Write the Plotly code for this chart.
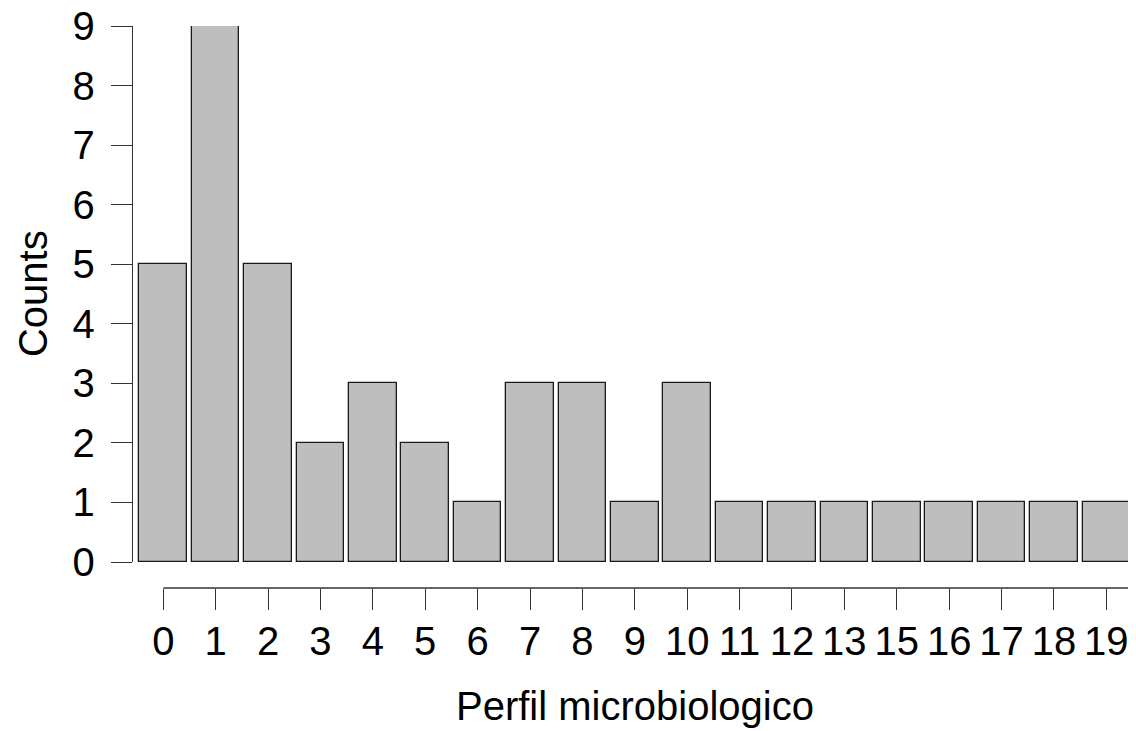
import plotly.graph_objects as go

categories = ["0", "1", "2", "3", "4", "5", "6", "7", "8", "9", "10",
              "11", "12", "13", "15", "16", "17", "18", "19"]
counts = [5, 9, 5, 2, 3, 2, 1, 3, 3, 1, 3, 1, 1, 1, 1, 1, 1, 1, 1]
y_ticks = list(range(0, 10))
x_title = "Perfil microbiologico"
y_title = "Counts"

FONT = "Liberation Sans, Arial, sans-serif"
FS = 40
OFF = 8  # page body margin
W, H = 1136 - OFF, 731 - OFF
L, R, T, B = 133 - OFF, 3.5, 26 - OFF, 143
plot_h = H - T - B  # 562
plot_w = W - L - R
paper_bottom = H - B
zero_px = 562 - OFF
ydom0 = (paper_bottom - zero_px) / plot_h

fig = go.Figure()
fig.add_trace(go.Bar(
    x=categories, y=counts, width=0.909,
    marker=dict(color="#BEBEBE", line=dict(color="#1a1a1a", width=1.3)),
    showlegend=False, hoverinfo="x+y",
))

# x axis baseline spanning first..last category (R style)
fig.add_shape(type="line", xref="x", yref="paper",
              x0=categories[0], x1=categories[-1], y0=0, y1=0,
              line=dict(color="#333333", width=1.3))

fig.update_layout(
    width=W, height=H,
    margin=dict(l=L, r=R, t=T, b=B, pad=0, autoexpand=False),
    plot_bgcolor="white", paper_bgcolor="white",
    font=dict(family=FONT, size=FS, color="black"),
    bargap=0,
    xaxis=dict(
        type="category", range=[-0.578, 18.49],
        anchor="free", position=0, automargin=False,
        showline=False, showgrid=False, zeroline=False,
        ticks="outside", ticklen=21, tickwidth=1.3, tickcolor="#333333",
        tickfont=dict(family=FONT, size=FS, color="black"),
        ticklabelstandoff=-3, ticklabeloverflow="allow",
    ),
    yaxis=dict(
        domain=[ydom0, 1], range=[0, 9], automargin=False,
        tickvals=y_ticks,
        showline=True, linecolor="#333333", linewidth=1.3,
        showgrid=False, zeroline=False,
        ticks="outside", ticklen=21, tickwidth=1.3, tickcolor="#333333",
        tickfont=dict(family=FONT, size=FS, color="black"),
        ticklabelstandoff=8, ticklabeloverflow="allow",
    ),
    annotations=[
        dict(text=x_title, xref="paper", yref="paper",
             x=(635 - OFF - L) / plot_w, y=(paper_bottom - (706 - OFF)) / plot_h,
             xanchor="center", yanchor="middle", showarrow=False,
             font=dict(family=FONT, size=FS, color="black")),
        dict(text=y_title, xref="paper", yref="paper",
             x=(33 - OFF - L) / plot_w, y=(paper_bottom - (294 - OFF)) / plot_h,
             xanchor="center", yanchor="middle", showarrow=False, textangle=-90,
             font=dict(family=FONT, size=FS, color="black")),
    ],
)

fig.write_html("out.html")
